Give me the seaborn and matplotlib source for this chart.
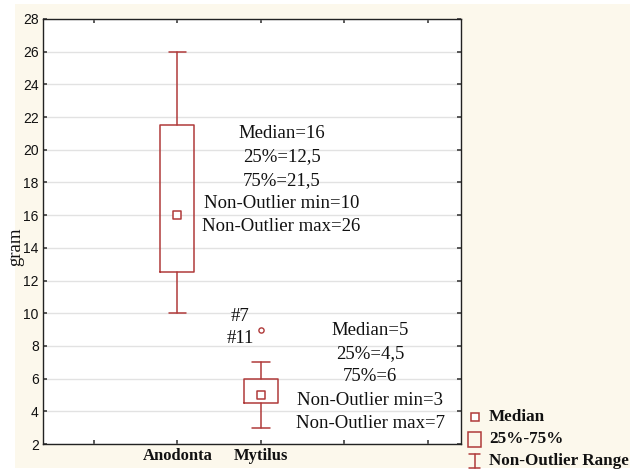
import numpy as np
import matplotlib
matplotlib.use("Agg")
import matplotlib.pyplot as plt
import seaborn as sns
import pandas as pd
from matplotlib.patches import Rectangle
from matplotlib.lines import Line2D

# data
species = ["Anodonta", "Mytilus"]
medians = [16, 5]
q1 = [12.5, 4.5]
q3 = [21.5, 6]
whisk_lo = [10, 3]
whisk_hi = [26, 7]
outlier_species = ["Mytilus"]
outlier_values = [9]
outlier_labels = ["#7", "#11"]

red = "#b03a3a"
cream = "#fcf8ec"

sns.set_theme(style="white")
plt.rcParams["font.family"] = ["Liberation Serif", "DejaVu Serif"]

fig = plt.figure(figsize=(6.3, 4.7), dpi=100, facecolor="white")
fig.add_artist(Rectangle((15 / 630, 2 / 470), 615 / 630, 464 / 470,
                         transform=fig.transFigure, facecolor=cream,
                         edgecolor="none", zorder=-10))
ax = fig.add_axes([43 / 630, 26 / 470, 418 / 630, 425 / 470])
ax.set_facecolor("white")

pos = [species.index(s) + 1 for s in species]
stats = []
for i, s in enumerate(species):
    stats.append(dict(label=s, med=medians[i], q1=q1[i], q3=q3[i],
                      whislo=whisk_lo[i], whishi=whisk_hi[i], fliers=[]))
ax.bxp(stats, positions=pos, widths=0.41, capwidths=0.21, showfliers=False,
       boxprops=dict(color=red, linewidth=1.1),
       whiskerprops=dict(color=red, linewidth=1.1),
       capprops=dict(color=red, linewidth=1.1),
       medianprops=dict(visible=False), zorder=3)

med_df = pd.DataFrame({"x": pos, "y": medians})
sns.scatterplot(data=med_df, x="x", y="y", marker="s", s=26,
                facecolor="white", edgecolor=red, linewidth=1.1, ax=ax, zorder=4)
out_df = pd.DataFrame({"x": [species.index(s) + 1 for s in outlier_species],
                       "y": outlier_values})
sns.scatterplot(data=out_df, x="x", y="y", marker="o", s=14,
                facecolor="white", edgecolor=red, linewidth=1.0, ax=ax, zorder=4)

ax.text(1.75, 9.77, outlier_labels[0], ha="center", va="center", fontsize=13.5, color="#111")
ax.text(1.75, 8.48, outlier_labels[1], ha="center", va="center", fontsize=13.5, color="#111")


def fmt(v):
    return str(v).replace(".", ",") if v != int(v) else str(int(v))


text_x = [2.25, 3.31]
text_top = [21.0, 8.97]
for i in range(len(species)):
    lines = [f"Median={fmt(medians[i])}", f"25%={fmt(q1[i])}", f"75%={fmt(q3[i])}",
             f"Non-Outlier min={fmt(whisk_lo[i])}", f"Non-Outlier max={fmt(whisk_hi[i])}"]
    for k, t in enumerate(lines):
        ax.text(text_x[i], text_top[i] - k * 1.43, t, ha="center", va="center",
                fontsize=13.5, color="#111")

ax.set_xlim(-0.61, 4.4)
ax.set_ylim(2, 28)
ax.set_xticks([0, 1, 2, 3, 4])
ax.set_xticklabels(["", "Anodonta", "Mytilus", "", ""], fontweight="bold", fontsize=12,
                   color="#111")
ax.set_yticks(np.arange(2, 29, 2))
ax.set_yticklabels([str(v) for v in range(2, 29, 2)], family="Liberation Sans",
                   fontsize=10, color="#111")
ax.set_xlabel("")
ax.set_ylabel("gram", fontsize=13.5, color="#111")
ax.yaxis.set_label_coords(-0.046, 0.463)
ax.yaxis.grid(True, color="#e2e2e2", linewidth=1.0)
ax.xaxis.grid(False)
ax.set_axisbelow(True)
ax.tick_params(direction="in", length=3, color="#444", top=True, right=True,
               bottom=True, left=True, pad=3)
for sp in ax.spines.values():
    sp.set_color("#222")
    sp.set_linewidth(1.0)

# legend drawn in figure pixels
def fx(px):
    return px / 630


def fy(py):
    return 1 - py / 470


fig.add_artist(Line2D([fx(474.5)], [fy(417)], marker="s", markersize=6,
                      markerfacecolor="white", markeredgecolor=red, markeredgewidth=1.1,
                      transform=fig.transFigure, linestyle="none"))
fig.add_artist(Rectangle((fx(468), fy(447)), 13 / 630, 15 / 470, transform=fig.transFigure,
                         facecolor="none", edgecolor=red, linewidth=1.1))
fig.add_artist(Line2D([fx(474.5)] * 2, [fy(454), fy(468)], color=red, lw=1.1,
                      transform=fig.transFigure))
fig.add_artist(Line2D([fx(469), fx(480)], [fy(454)] * 2, color=red, lw=1.1,
                      transform=fig.transFigure))
fig.add_artist(Line2D([fx(469), fx(480)], [fy(468)] * 2, color=red, lw=1.1,
                      transform=fig.transFigure))
for t, py in zip(["Median", "25%-75%", "Non-Outlier Range"], [417, 439, 461]):
    fig.text(fx(489), fy(py), t, ha="left", va="center", fontsize=12.3,
             fontweight="bold", color="#111")

fig.savefig("out.png", dpi=100, facecolor=fig.get_facecolor())
